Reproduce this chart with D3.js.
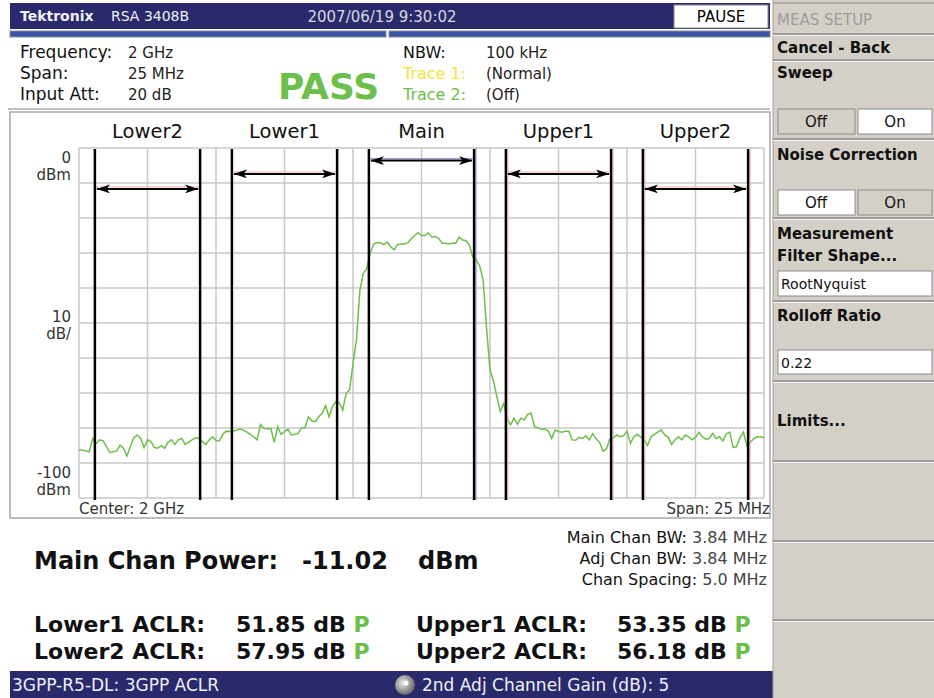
<!DOCTYPE html>
<html>
<head>
<meta charset="utf-8">
<script src="https://cdn.jsdelivr.net/npm/d3@7"></script>
<style>
  html, body { margin: 0; padding: 0; background: #fff; }
  svg { display: block; }
  text { font-family: 'DejaVu Sans', sans-serif; }
</style>
</head>
<body>
<div id="screen"></div>
<script>
'use strict'

// channel setup
const channelNames = ['Lower2', 'Lower1', 'Main', 'Upper1', 'Upper2']
const channelOffsetsMHz = [-10, -5, 0, 5, 10]
const channelBwMHz = 3.84
const channelLevelsDbm = [-11.7, -7.4, -3.6, -7.4, -11.7]
const spanMHz = 25
const refLevelDbm = 0
const bottomLevelDbm = -100
const yTickLabels = [['0', 'dBm'], ['10', 'dB/'], ['-100', 'dBm']]

// trace 1, one point every 0.125 MHz starting at -12.5 MHz
const traceStartMHz = -12.5
const traceStepMHz = 0.125
const traceDbm = [
  -86.3, -86.3, -86.6, -86.8, -83.0, -84.4, -83.4, -83.6, -85.3, -87.0,
  -86.8, -86.6, -84.9, -85.8, -88.0, -85.3, -82.8, -82.0, -83.0, -85.6,
  -83.4, -83.9, -85.6, -85.8, -85.0, -85.8, -84.1, -83.4, -84.7, -83.4,
  -83.0, -84.7, -84.1, -83.4, -82.8, -83.0, -83.9, -84.7, -83.4, -82.5,
  -83.6, -83.7, -81.8, -80.9, -81.0, -80.9, -80.6, -80.3, -80.6, -81.2,
  -81.8, -82.5, -83.4, -79.0, -80.1, -80.3, -80.1, -84.1, -79.6, -81.8,
  -81.0, -80.3, -82.0, -81.8, -81.5, -79.9, -79.9, -76.8, -78.0, -78.2,
  -76.8, -75.8, -73.6, -76.8, -73.9, -72.5, -72.8, -74.9, -70.1, -69.1,
  -61.7, -54.9, -40.8, -35.8, -34.5, -30.1, -27.5, -27.0, -27.1, -27.6,
  -26.9, -28.2, -29.1, -27.6, -27.4, -27.4, -27.1, -26.0, -25.0, -24.2,
  -25.0, -25.0, -24.2, -25.5, -25.3, -25.8, -27.2, -27.2, -27.4, -27.2,
  -27.2, -25.5, -26.3, -26.5, -27.8, -31.2, -32.0, -33.7, -37.7, -51.5,
  -63.4, -66.5, -71.0, -75.3, -73.0, -77.2, -79.1, -77.2, -78.9, -77.2,
  -77.7, -76.1, -75.8, -79.6, -79.9, -80.4, -80.3, -80.8, -83.0, -80.6,
  -81.0, -81.2, -80.9, -80.9, -83.4, -83.5, -82.7, -83.0, -82.2, -83.4,
  -81.6, -83.1, -84.1, -86.6, -86.0, -83.1, -82.8, -82.0, -82.5, -82.2,
  -80.9, -84.4, -82.5, -81.8, -82.6, -83.2, -85.0, -82.5, -81.8, -81.2,
  -80.6, -82.0, -82.6, -84.7, -83.4, -82.5, -83.4, -82.0, -82.5, -83.4,
  -82.7, -81.2, -82.5, -83.2, -83.0, -81.5, -83.0, -82.5, -83.7, -81.7,
  -81.2, -85.6, -85.3, -82.8, -81.2, -85.1, -84.1, -83.1, -82.5, -82.5,
  -82.8
]

// screen texts
const headerLeft = [['Frequency:', '2 GHz'], ['Span:', '25 MHz'], ['Input Att:', '20 dB']]
const headerRight = [['NBW:', '100 kHz'], ['Trace 1:', '(Normal)'], ['Trace 2:', '(Off)']]
const bwInfo = [['Main Chan BW:', '3.84 MHz'], ['Adj Chan BW:', '3.84 MHz'], ['Chan Spacing:', '5.0 MHz']]
const aclrNames = ['Lower1 ACLR:', 'Lower2 ACLR:', 'Upper1 ACLR:', 'Upper2 ACLR:']
const aclrValues = [51.85, 57.95, 53.35, 56.18]
const mainChanPowerDbm = -11.02

const NAVY = '#29296c'
const PANEL = '#d4d0c8'
const GREEN = '#6cbf4a'

class AclrScreen {
  constructor () {
    this.width = 934
    this.height = 698
    this.svg = d3.select('#screen').append('svg')
      .attr('width', this.width)
      .attr('height', this.height)
    this.x = d3.scaleLinear().domain([-spanMHz / 2, spanMHz / 2]).range([79, 764])
    this.y = d3.scaleLinear().domain([bottomLevelDbm, refLevelDbm]).range([498, 148])
    this.makeDefs()
    this.makeTopBar()
    this.makeHeader()
    this.makePlotFrame()
    this.makeGrid()
    this.makeTrace()
    this.makeChannels()
    this.makeAxisLabels()
    this.makeResults()
    this.makeBottomBar()
    this.makeSidePanel()
  }

  makeDefs () {
    this.svg.append('defs').append('marker')
      .attr('id', 'arrowhead')
      .attr('viewBox', '0 0 12 8')
      .attr('refX', 12)
      .attr('refY', 4)
      .attr('markerWidth', 13)
      .attr('markerHeight', 9)
      .attr('markerUnits', 'userSpaceOnUse')
      .attr('orient', 'auto-start-reverse')
      .append('path')
      .attr('d', 'M0,0 L12,4 L0,8 L3,4 z')
      .attr('fill', '#000')
  }

  makeTopBar () {
    const g = this.svg.append('g').attr('class', 'topbar')
    g.append('rect').attr('x', 10).attr('y', 3).attr('width', 760).attr('height', 26).attr('fill', NAVY)
    g.append('text').attr('x', 20).attr('y', 21)
      .attr('fill', '#f0f0f8').attr('font-family', 'DejaVu Serif').attr('font-weight', 'bold')
      .attr('font-size', 14).text('Tektronix')
    g.append('text').attr('x', 111).attr('y', 21)
      .attr('fill', '#f0f0f8').attr('font-size', 14).text('RSA 3408B')
    g.append('text').attr('x', 382).attr('y', 22).attr('text-anchor', 'middle')
      .attr('fill', '#d8d8e0').attr('font-size', 15).text('2007/06/19 9:30:02')
    g.append('rect').attr('x', 674).attr('y', 5).attr('width', 94).attr('height', 23)
      .attr('fill', '#fff').attr('stroke', '#888')
    g.append('text').attr('x', 721).attr('y', 22).attr('text-anchor', 'middle')
      .attr('fill', '#000').attr('font-size', 15).text('PAUSE')
    // status stripes
    for (const [x0, x1] of [[10, 386], [389, 770]]) {
      g.append('rect').attr('x', x0).attr('y', 31).attr('width', x1 - x0).attr('height', 6)
        .attr('fill', '#3a55a6').attr('stroke', '#8a8a9a').attr('stroke-width', 1)
    }
    g.append('line').attr('x1', 8).attr('x2', 770).attr('y1', 109).attr('y2', 109)
      .attr('stroke', '#a8a8a8').attr('stroke-width', 1.5)
  }

  makeHeader () {
    const g = this.svg.append('g').attr('class', 'header')
    headerLeft.forEach(([k, v], i) => {
      g.append('text').attr('x', 20).attr('y', 58 + i * 21).attr('font-size', 17).attr('fill', '#111').text(k)
      g.append('text').attr('x', 128).attr('y', 58 + i * 21).attr('font-size', 15).attr('fill', '#222').text(v)
    })
    const keyColors = ['#111', '#f2e43a', GREEN]
    headerRight.forEach(([k, v], i) => {
      g.append('text').attr('x', 403).attr('y', 58 + i * 21).attr('font-size', 16).attr('fill', keyColors[i]).text(k)
      g.append('text').attr('x', 486).attr('y', 58 + i * 21).attr('font-size', 15).attr('fill', '#222').text(v)
    })
    g.append('text').attr('x', 278).attr('y', 99)
      .attr('font-size', 36).attr('font-weight', 'bold').attr('fill', GREEN).text('PASS')
  }

  makePlotFrame () {
    this.svg.append('rect')
      .attr('x', 10).attr('y', 112).attr('width', 760).attr('height', 406)
      .attr('fill', '#fff').attr('stroke', '#a8a8a8').attr('stroke-width', 1.5)
  }

  makeGrid () {
    const g = this.svg.append('g').attr('class', 'grid')
    const xt = d3.range(-spanMHz / 2, spanMHz / 2 + 1e-9, 2.5)
    const yt = d3.range(bottomLevelDbm, refLevelDbm + 1e-9, 10)
    g.selectAll('line.vx').data(xt).enter().append('line')
      .attr('x1', d => this.x(d)).attr('x2', d => this.x(d))
      .attr('y1', this.y(refLevelDbm)).attr('y2', this.y(bottomLevelDbm))
      .attr('stroke', '#c9c9c9').attr('stroke-width', 1.5)
    g.selectAll('line.hy').data(yt).enter().append('line')
      .attr('x1', this.x(-spanMHz / 2)).attr('x2', this.x(spanMHz / 2))
      .attr('y1', d => this.y(d)).attr('y2', d => this.y(d))
      .attr('stroke', '#c9c9c9').attr('stroke-width', 1.5)
  }

  makeTrace () {
    const pts = traceDbm.map((v, i) => [traceStartMHz + i * traceStepMHz, v])
    const line = d3.line().x(d => this.x(d[0])).y(d => this.y(d[1]))
    this.svg.append('path').datum(pts)
      .attr('d', line)
      .attr('fill', 'none')
      .attr('stroke', GREEN)
      .attr('stroke-width', 1.5)
  }

  makeChannels () {
    const chans = channelNames.map((name, i) => ({
      name,
      lo: channelOffsetsMHz[i] - channelBwMHz / 2,
      hi: channelOffsetsMHz[i] + channelBwMHz / 2,
      level: channelLevelsDbm[i],
      main: channelOffsetsMHz[i] === 0,
      upper: channelOffsetsMHz[i] > 0
    }))
    const g = this.svg.append('g').attr('class', 'channels')
    const top = this.y(refLevelDbm)
    const bottom = this.y(bottomLevelDbm) + 2

    // thin limit markers next to the channel edges
    for (const c of chans) {
      const col = c.main ? '#9090e4' : '#f4b0b0'
      if (c.upper || c.main) {
        const edges = c.main ? [c.hi] : [c.lo, c.hi]
        for (const e of edges) {
          g.append('line').attr('x1', this.x(e) + 2).attr('x2', this.x(e) + 2)
            .attr('y1', top).attr('y2', bottom).attr('stroke', col).attr('stroke-width', 1)
        }
      }
      g.append('line')
        .attr('x1', this.x(c.lo)).attr('x2', this.x(c.hi))
        .attr('y1', this.y(c.level) - 2).attr('y2', this.y(c.level) - 2)
        .attr('stroke', col).attr('stroke-width', 1)
    }

    g.selectAll('line.edge').data(chans.flatMap(c => [c.lo, c.hi])).enter().append('line')
      .attr('x1', d => this.x(d)).attr('x2', d => this.x(d))
      .attr('y1', top + 1).attr('y2', bottom)
      .attr('stroke', '#000').attr('stroke-width', 2.5)

    g.selectAll('line.arrow').data(chans).enter().append('line')
      .attr('x1', d => this.x(d.lo) + 2).attr('x2', d => this.x(d.hi) - 2)
      .attr('y1', d => this.y(d.level)).attr('y2', d => this.y(d.level))
      .attr('stroke', '#000').attr('stroke-width', 2)
      .attr('marker-start', 'url(#arrowhead)')
      .attr('marker-end', 'url(#arrowhead)')

    g.selectAll('text.chname').data(chans).enter().append('text')
      .attr('x', d => this.x((d.lo + d.hi) / 2))
      .attr('y', 138)
      .attr('text-anchor', 'middle')
      .attr('font-family', 'Liberation Sans')
      .attr('font-size', 19.5)
      .attr('fill', '#111')
      .text(d => d.name)
  }

  makeAxisLabels () {
    const g = this.svg.append('g').attr('class', 'ylabels')
      .attr('font-size', 15).attr('fill', '#333').attr('text-anchor', 'end')
    const anchors = [[this.y(0), 15, 32], [this.y(-50), -1, 16], [this.y(-100), -20, -3]]
    yTickLabels.forEach(([a, b], i) => {
      const [y0, d1, d2] = anchors[i]
      g.append('text').attr('x', 71).attr('y', y0 + d1).text(a)
      g.append('text').attr('x', 71).attr('y', y0 + d2).text(b)
    })
    this.svg.append('text').attr('x', 79).attr('y', 514)
      .attr('font-size', 15).attr('fill', '#333').text('Center: 2 GHz')
    this.svg.append('text').attr('x', 770).attr('y', 514).attr('text-anchor', 'end')
      .attr('font-size', 15).attr('fill', '#333').text(`Span: ${spanMHz} MHz`)
  }

  makeResults () {
    const g = this.svg.append('g').attr('class', 'results').attr('fill', '#111')
    g.append('text').attr('x', 34).attr('y', 569)
      .attr('font-size', 24).attr('font-weight', 'bold').text('Main Chan Power:')
    g.append('text').attr('x', 302).attr('y', 569)
      .attr('font-size', 24).attr('font-weight', 'bold').text(mainChanPowerDbm.toFixed(2))
    g.append('text').attr('x', 418).attr('y', 569)
      .attr('font-size', 24).attr('font-weight', 'bold').text('dBm')

    bwInfo.forEach(([k, v], i) => {
      const t = g.append('text').attr('x', 767).attr('y', 543 + i * 21)
        .attr('text-anchor', 'end').attr('font-size', 16)
      t.append('tspan').attr('fill', '#111').text(k + ' ')
      t.append('tspan').attr('fill', '#444').text(v)
    })

    aclrNames.forEach((name, i) => {
      const col = Math.floor(i / 2)
      const row = i % 2
      const x0 = col === 0 ? 34 : 416
      const xv = col === 0 ? 236 : 617
      const yy = 632 + row * 27
      g.append('text').attr('x', x0).attr('y', yy)
        .attr('font-size', 22).attr('font-weight', 'bold').text(name)
      const t = g.append('text').attr('x', xv).attr('y', yy)
        .attr('font-size', 22).attr('font-weight', 'bold')
      t.append('tspan').text(`${aclrValues[i].toFixed(2)} dB `)
      t.append('tspan').attr('fill', GREEN).text('P')
    })
  }

  makeBottomBar () {
    const g = this.svg.append('g').attr('class', 'bottombar')
    g.append('rect').attr('x', 10).attr('y', 671).attr('width', 763).attr('height', 27).attr('fill', NAVY)
    g.append('text').attr('x', 12).attr('y', 691).attr('font-size', 17)
      .attr('fill', '#f0f0f8').text('3GPP-R5-DL: 3GPP ACLR')
    const grad = this.svg.select('defs').append('radialGradient')
      .attr('id', 'knob').attr('cx', '40%').attr('cy', '40%').attr('r', '60%')
    grad.append('stop').attr('offset', '0%').attr('stop-color', '#e8e8e8')
    grad.append('stop').attr('offset', '100%').attr('stop-color', '#6a6a6a')
    g.append('circle').attr('cx', 405).attr('cy', 685).attr('r', 10).attr('fill', 'url(#knob)')
    g.append('circle').attr('cx', 406).attr('cy', 683).attr('r', 2.5).attr('fill', '#fafafa')
    g.append('text').attr('x', 422).attr('y', 691).attr('font-size', 17)
      .attr('fill', '#f0f0f8').text('2nd Adj Channel Gain (dB): 5')
  }

  makeSidePanel () {
    const g = this.svg.append('g').attr('class', 'sidepanel')
    g.append('rect').attr('x', 773).attr('y', 0).attr('width', 161).attr('height', this.height).attr('fill', PANEL)
    g.append('line').attr('x1', 773).attr('x2', 773).attr('y1', 0).attr('y2', this.height)
      .attr('stroke', '#a4a09a').attr('stroke-width', 1)

    const sep = y => {
      g.append('line').attr('x1', 773).attr('x2', 934).attr('y1', y).attr('y2', y)
        .attr('stroke', '#8c8c8c').attr('stroke-width', 1.5)
      g.append('line').attr('x1', 773).attr('x2', 934).attr('y1', y + 1.5).attr('y2', y + 1.5)
        .attr('stroke', '#f4f4f4').attr('stroke-width', 1)
    }
    const label = (txt, y, color) => g.append('text').attr('x', 777).attr('y', y)
      .attr('font-size', 15).attr('font-weight', 'bold').attr('fill', color || '#111').text(txt)
    const box = (x, y, w, h, fill) => g.append('rect').attr('x', x).attr('y', y)
      .attr('width', w).attr('height', h).attr('fill', fill)
      .attr('stroke', '#8c8c8c').attr('stroke-width', 1)
    const boxText = (txt, x, y, anchor) => g.append('text').attr('x', x).attr('y', y)
      .attr('text-anchor', anchor || 'middle').attr('font-size', 15).attr('fill', '#111').text(txt)

    g.append('line').attr('x1', 773).attr('x2', 934).attr('y1', 3).attr('y2', 3)
      .attr('stroke', '#8c8c8c').attr('stroke-width', 1)
    label('MEAS SETUP', 25, '#9c9c9c').attr('font-weight', 'normal')
    sep(34)
    label('Cancel - Back', 53)
    sep(60)
    label('Sweep', 78)
    box(778, 109, 77, 25, PANEL)
    box(858, 109, 74, 25, '#fff')
    boxText('Off', 816, 127)
    boxText('On', 895, 127)
    sep(139)
    label('Noise Correction', 160)
    box(778, 190, 77, 25, '#fff')
    box(858, 190, 74, 25, PANEL)
    boxText('Off', 816, 208)
    boxText('On', 895, 208)
    sep(218)
    label('Measurement', 239)
    label('Filter Shape...', 261)
    box(778, 271, 154, 25, '#fff')
    boxText('RootNyquist', 781, 289, 'start').attr('font-size', 14)
    sep(301)
    label('Rolloff Ratio', 321)
    box(778, 350, 154, 24, '#fff')
    boxText('0.22', 781, 368, 'start').attr('font-size', 14)
    sep(381)
    label('Limits...', 426)
    sep(461)
    sep(541)
    sep(620)
  }
}

new AclrScreen()
</script>
</body>
</html>
